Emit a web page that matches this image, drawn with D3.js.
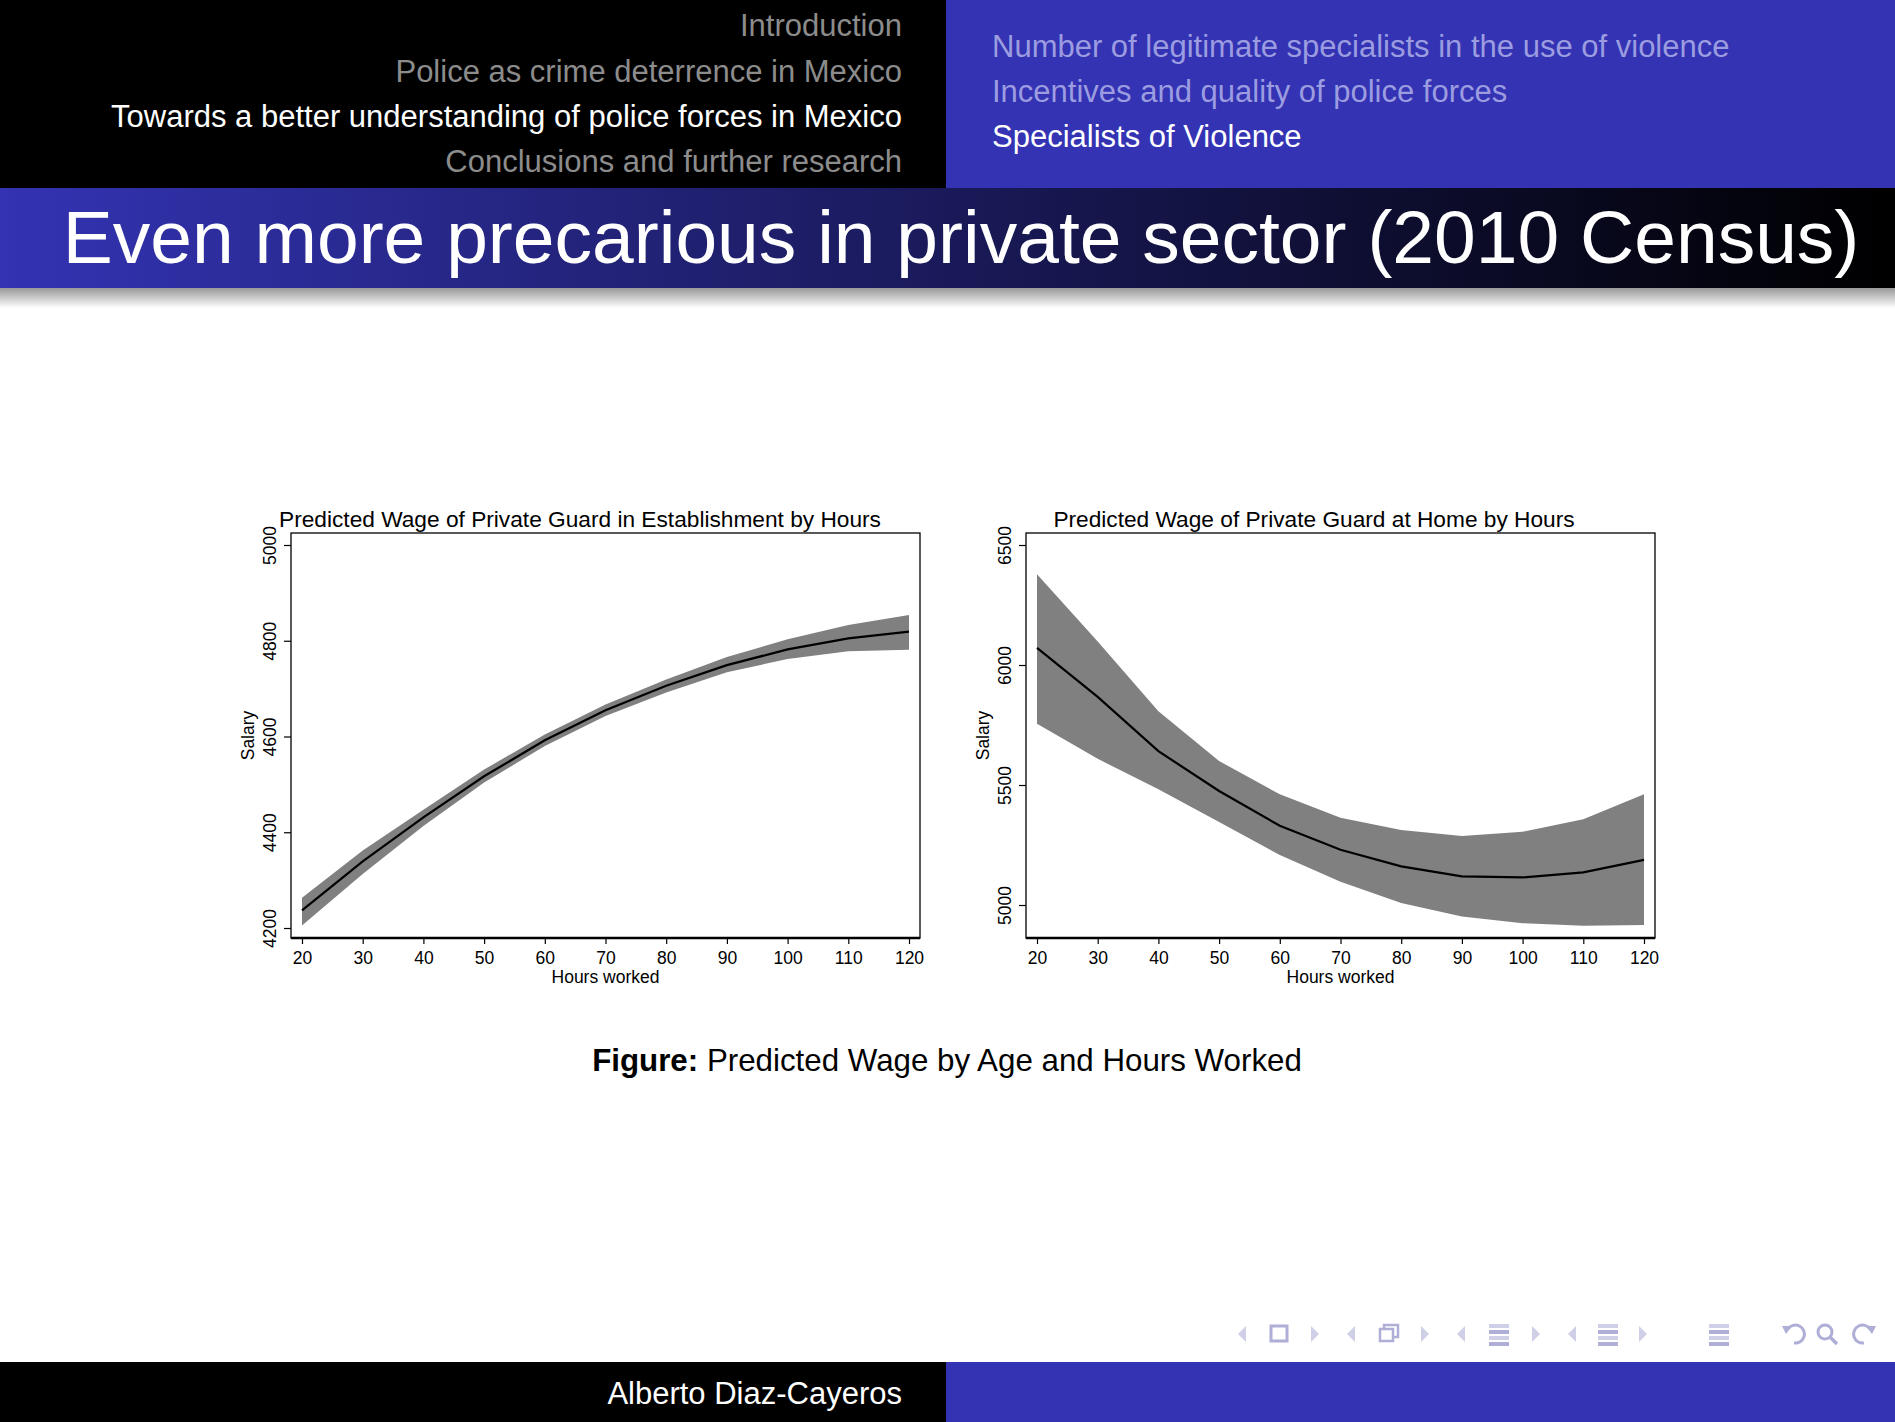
<!DOCTYPE html>
<html><head><meta charset="utf-8">
<script src="https://cdn.jsdelivr.net/npm/d3@7"></script>
<style>html,body{margin:0;padding:0;background:#fff;}svg{display:block;font-family:"Liberation Sans",Arial,sans-serif;}</style>
</head><body>
<svg id="s" width="1895" height="1422"></svg>
<script>
// ---- data ----
const hours = [20,30,40,50,60,70,80,90,100,110,120];
const estFit   = [4237,4339,4431,4517,4592,4655,4706,4749,4782,4805,4819];
const estLower = [4205,4313,4413,4504,4580,4643,4692,4734,4762,4778,4781];
const estUpper = [4263,4362,4447,4531,4604,4667,4719,4766,4803,4833,4854];
const homeFit   = [6071,5867,5641,5475,5330,5230,5161,5119,5115,5136,5188];
const homeLower = [5755,5609,5482,5346,5208,5097,5008,4952,4924,4914,4917];
const homeUpper = [6378,6098,5807,5600,5461,5364,5313,5288,5305,5357,5461];
const xTicks = [20,30,40,50,60,70,80,90,100,110,120];
const estYTicks = [4200,4400,4600,4800,5000];
const homeYTicks = [5000,5500,6000,6500];
const sectionsLeft = ["Introduction","Police as crime deterrence in Mexico","Towards a better understanding of police forces in Mexico","Conclusions and further research"];
const sectionsRight = ["Number of legitimate specialists in the use of violence","Incentives and quality of police forces","Specialists of Violence"];
const slideTitle = "Even more precarious in private sector (2010 Census)";
const author = "Alberto Diaz-Cayeros";

const svg = d3.select("#s");
const defs = svg.append("defs");
const BLUE = "#3333b3";

// ---- header ----
svg.append("rect").attr("x",0).attr("y",0).attr("width",946).attr("height",188).attr("fill","#000");
svg.append("rect").attr("x",946).attr("y",0).attr("width",949).attr("height",188).attr("fill",BLUE);
const lY = [25,71,116,161];
sectionsLeft.forEach((t,i)=>{
  svg.append("text").attr("x",902).attr("y",lY[i]).attr("dy","0.35em").attr("text-anchor","end")
    .attr("font-size",31).attr("fill", i===2?"#fff":"#8c8c8c").text(t);
});
const rY = [46,91,136];
sectionsRight.forEach((t,i)=>{
  svg.append("text").attr("x",992).attr("y",rY[i]).attr("dy","0.35em")
    .attr("font-size",31).attr("fill", i===2?"#fff":"#9c9ce0").text(t);
});

// title bar
const g1 = defs.append("linearGradient").attr("id","tg").attr("x1","0").attr("x2","1").attr("y1","0").attr("y2","0");
g1.append("stop").attr("offset","0").attr("stop-color",BLUE);
g1.append("stop").attr("offset","1").attr("stop-color","#000");
const g2 = defs.append("linearGradient").attr("id","sh").attr("x1","0").attr("x2","0").attr("y1","0").attr("y2","1");
g2.append("stop").attr("offset","0").attr("stop-color","#999");
g2.append("stop").attr("offset","1").attr("stop-color","#fff");
svg.append("rect").attr("x",0).attr("y",288).attr("width",1895).attr("height",20).attr("fill","url(#sh)");
svg.append("rect").attr("x",0).attr("y",188).attr("width",1895).attr("height",100).attr("fill","url(#tg)");
svg.append("text").attr("x",961).attr("y",263).attr("text-anchor","middle").attr("font-size",75)
  .attr("fill","#fff").text(slideTitle);

// ---- footer ----
svg.append("rect").attr("x",0).attr("y",1362).attr("width",946).attr("height",60).attr("fill","#000");
svg.append("rect").attr("x",946).attr("y",1362).attr("width",949).attr("height",60).attr("fill",BLUE);
svg.append("text").attr("x",902).attr("y",1393).attr("dy","0.35em").attr("text-anchor","end")
  .attr("font-size",31).attr("fill","#fff").text(author);

// ---- charts ----
function chart(opt){
  const g = svg.append("g");
  const x = d3.scaleLinear().domain([20,120]).range(opt.xr);
  const y = d3.scaleLinear().domain(opt.yd).range(opt.yr);
  const [bx0,bx1] = opt.box, [by0,by1] = opt.boxY;
  // band
  const area = d3.area().x((d,i)=>x(hours[i])).y0((d,i)=>y(opt.lower[i])).y1((d,i)=>y(opt.upper[i]));
  g.append("path").datum(hours).attr("d",area).attr("fill","#808080");
  const line = d3.line().x((d,i)=>x(hours[i])).y((d,i)=>y(opt.fit[i]));
  g.append("path").datum(hours).attr("d",line).attr("fill","none").attr("stroke","#000").attr("stroke-width",2.2);
  // box
  g.append("rect").attr("x",bx0).attr("y",by0).attr("width",bx1-bx0).attr("height",by1-by0)
    .attr("fill","none").attr("stroke","#000").attr("stroke-width",1.3);
  // bottom axis
  const xa = g.append("g").attr("transform",`translate(0,${by1})`)
    .call(d3.axisBottom(x).tickValues(xTicks).tickSize(6).tickPadding(8).tickFormat(d3.format("d")));
  xa.select(".domain").attr("d",`M${bx0},0H${bx1}`).attr("stroke-width",2.6);
  xa.selectAll("text").attr("font-size",17.5).attr("font-family","Liberation Sans, Arial").attr("fill","#000");
  xa.selectAll("line").attr("stroke-width",1.2);
  // left axis
  const ya = g.append("g").attr("transform",`translate(${bx0},0)`)
    .call(d3.axisLeft(y).tickValues(opt.yt).tickSize(7).tickFormat(d3.format("d")));
  ya.select(".domain").remove();
  ya.selectAll("line").attr("stroke-width",1.2);
  ya.selectAll("text").attr("font-size",17.5).attr("font-family","Liberation Sans, Arial").attr("fill","#000")
    .attr("x",null).attr("dy",null).attr("text-anchor","middle")
    .attr("transform","translate(-15,0) rotate(-90)");
  g.append("text").attr("transform",`translate(${bx0-37},${(by0+by1)/2}) rotate(-90)`)
    .attr("text-anchor","middle").attr("font-size",17.5).text("Salary");
  g.append("text").attr("x",(bx0+bx1)/2).attr("y",by1+45).attr("text-anchor","middle")
    .attr("font-size",17.5).text("Hours worked");
  g.append("text").attr("x",opt.tx).attr("y",by0-6).attr("text-anchor","middle")
    .attr("font-size",22.7).text(opt.title);
}
chart({xr:[302,909], yd:[4200,5000], yr:[928,545], box:[291,920], boxY:[533,938],
  fit:estFit, lower:estLower, upper:estUpper, yt:estYTicks,
  title:"Predicted Wage of Private Guard in Establishment by Hours", tx:580});
chart({xr:[1037,1644], yd:[5000,6500], yr:[905,545], box:[1026,1655], boxY:[533,938],
  fit:homeFit, lower:homeLower, upper:homeUpper, yt:homeYTicks,
  title:"Predicted Wage of Private Guard at Home by Hours", tx:1314});

// caption
const cap = svg.append("text").attr("x",947).attr("y",1060).attr("dy","0.35em").attr("text-anchor","middle").attr("font-size",31.3);
cap.append("tspan").attr("font-weight","bold").text("Figure:");
cap.append("tspan").text(" Predicted Wage by Age and Hours Worked");

// ---- navigation symbols ----
const nav = svg.append("g").attr("fill","none");
const NC = "#aeaed6", NL = "#cfcfe8";
const cy = 1334;
function triL(x){ nav.append("path").attr("d",`M${x+4},${cy-8}L${x-4},${cy}L${x+4},${cy+8}Z`).attr("fill",NL); }
function triR(x){ nav.append("path").attr("d",`M${x-4},${cy-8}L${x+4},${cy}L${x-4},${cy+8}Z`).attr("fill",NL); }
function lines(x){ [-10,-4,2,8].forEach((o,i)=>nav.append("rect").attr("x",x-10).attr("y",cy+o).attr("width",20).attr("height",4).attr("fill",i%2?NC:NL)); }
triL(1242); nav.append("rect").attr("x",1271).attr("y",cy-8).attr("width",16).attr("height",15).attr("stroke",NC).attr("stroke-width",3); triR(1315);
triL(1351); nav.append("rect").attr("x",1380).attr("y",cy-5).attr("width",13).attr("height",12).attr("stroke",NC).attr("stroke-width",2.5);
nav.append("path").attr("d",`M${1384},${cy-5}V${cy-9}H${1398}V${cy+3}H${1393}`).attr("stroke",NC).attr("stroke-width",2.5); triR(1425);
triL(1461); lines(1499); triR(1536);
triL(1572); lines(1608); triR(1643);
lines(1719);
nav.append("path").attr("d",`M${1788},${cy-5}A9,9 0 1 1 ${1794},${cy+9}`).attr("stroke",NC).attr("stroke-width",3);
nav.append("path").attr("d",`M${1782},${cy-8}L${1792},${cy-8}L${1786},${cy}Z`).attr("fill",NC);
nav.append("circle").attr("cx",1825).attr("cy",cy-2).attr("r",7).attr("stroke",NC).attr("stroke-width",3);
nav.append("path").attr("d",`M${1830},${cy+3}L${1837},${cy+10}`).attr("stroke",NC).attr("stroke-width",3.5);
nav.append("path").attr("d",`M${1870},${cy-5}A9,9 0 1 0 ${1864},${cy+9}`).attr("stroke",NC).attr("stroke-width",3);
nav.append("path").attr("d",`M${1876},${cy-8}L${1866},${cy-8}L${1872},${cy}Z`).attr("fill",NC);
</script>
</body></html>
